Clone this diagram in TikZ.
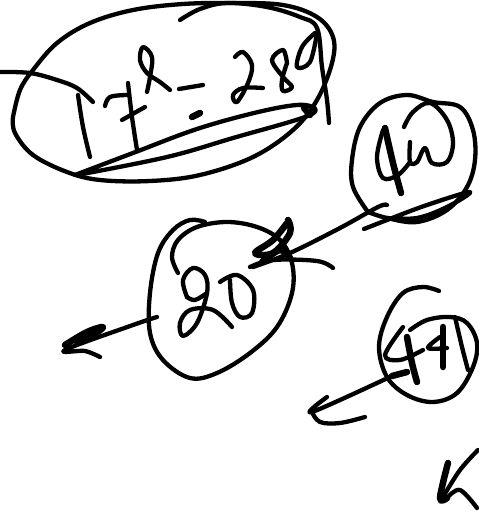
\documentclass[tikz,border=0pt]{standalone}
\tikzset{ink/.style={draw=black,line width=4.3pt,line cap=round,line join=round},
thick ink/.style={ink,line width=6.5pt}}
\newcommand{\stroke}[2][ink]{\draw[#1] plot[smooth,tension=0.6] coordinates {#2};}
\begin{document}
\begin{tikzpicture}[x=1pt,y=-1pt]
\useasboundingbox (0,0) rectangle (479,512);
% big ellipse
\stroke{(13,117)(20,90)(33,70)(57,43)(90,23)(133,10)(183,4)(233,3)(283,5)(317,17)(333,37)(332,63)(317,100)(293,130)(253,157)(200,175)(150,181)(100,180)(67,172)(33,155)(15,133)(13,117)}
\stroke{(180,20)(200,9)(227,3)(267,7)(300,17)(317,28)(322,67)(327,100)(329,123)}
\stroke{(0,72)(30,73)(57,80)(77,88)(93,102)}
\stroke{(78,95)(83,127)(90,157)}
\stroke{(105,106)(110,97)(127,95)}
\stroke{(128,83)(132,117)(137,150)}
\stroke{(122,120)(145,107)}
\stroke{(170,90)(160,82)(147,73)(140,60)(143,47)(152,57)(150,77)(147,92)}
\stroke{(179,89)(203,85)}
\stroke[thick ink]{(192,117)(200,113)}
\stroke{(235,57)(243,52)(252,65)(248,83)(237,102)(233,95)(243,88)(263,88)}
\stroke{(287,63)(283,50)(272,60)(283,77)(292,87)(283,91)(282,80)(287,63)}
\stroke{(315,33)(302,47)(297,67)(310,62)(317,33)}
\stroke{(75,175)(133,153)(200,128)(267,110)(305,105)(310,115)(233,138)(167,157)(77,175)}
\stroke[thick ink]{(304,108)(310,115)}
% upper right circle
\stroke{(368,212)(353,187)(352,160)(360,127)(380,103)(407,95)(433,102)(460,107)(473,130)(475,160)(467,187)(447,210)(417,222)(387,218)(368,212)}
\stroke[thick ink]{(385,128)(393,163)(401,193)}
\stroke{(383,130)(377,157)(383,178)(398,175)(410,162)}
\stroke{(410,142)(410,162)(417,162)(425,148)(432,163)(447,162)(453,143)(447,120)(430,103)(413,112)(404,127)}
\stroke{(364,229)(387,220)(427,205)(470,192)(447,207)(417,218)(387,218)}
\stroke{(387,205)(378,207)(340,228)(290,253)(253,267)}
\stroke[thick ink]{(288,220)(290,233)(273,253)(255,253)(273,240)(287,223)}
\stroke[thick ink]{(262,262)(280,250)(290,258)}
\stroke{(250,267)(273,260)(317,261)(333,268)}
% middle circle
\stroke{(205,222)(190,220)(173,230)(158,253)(150,293)(150,333)(163,360)(190,378)(217,373)(250,353)(277,327)(292,293)(292,263)(280,240)(257,227)(227,222)(197,227)(178,240)(172,257)(178,273)}
\stroke{(187,297)(183,280)(193,268)(205,275)(207,293)(197,323)(183,336)(180,323)(190,310)(213,310)(232,327)}
\stroke{(187,297)(195,300)(207,293)}
\stroke{(220,282)(237,275)(253,290)(252,313)(240,317)(232,303)(230,280)}
\stroke{(157,317)(133,325)(65,350)(85,351)(100,357)}
\stroke[thick ink]{(65,345)(87,332)(103,327)(93,335)(77,342)}
% lower right circle
\stroke{(439,291)(423,287)(403,293)(387,317)(379,347)(387,377)(407,395)(433,402)(457,393)(473,367)(477,343)(467,323)(450,317)(427,320)(410,330)}
\stroke{(403,327)(385,355)(400,360)(423,350)}
\stroke[thick ink]{(407,337)(412,363)(417,382)}
\stroke{(440,337)(428,348)(447,348)}
\stroke[thick ink]{(443,327)(443,367)}
\stroke{(455,317)(462,347)(468,370)}
\stroke[thick ink]{(407,372)(392,376)}
\stroke{(392,376)(312,412)(327,397)}
\stroke{(312,412)(320,422)(340,423)(365,417)}
% bottom corner
\stroke[thick ink]{(448,463)(440,498)(447,498)}
\stroke{(447,498)(460,490)(477,508)}
\stroke{(478,450)(460,470)(443,497)}
\end{tikzpicture}
\end{document}
